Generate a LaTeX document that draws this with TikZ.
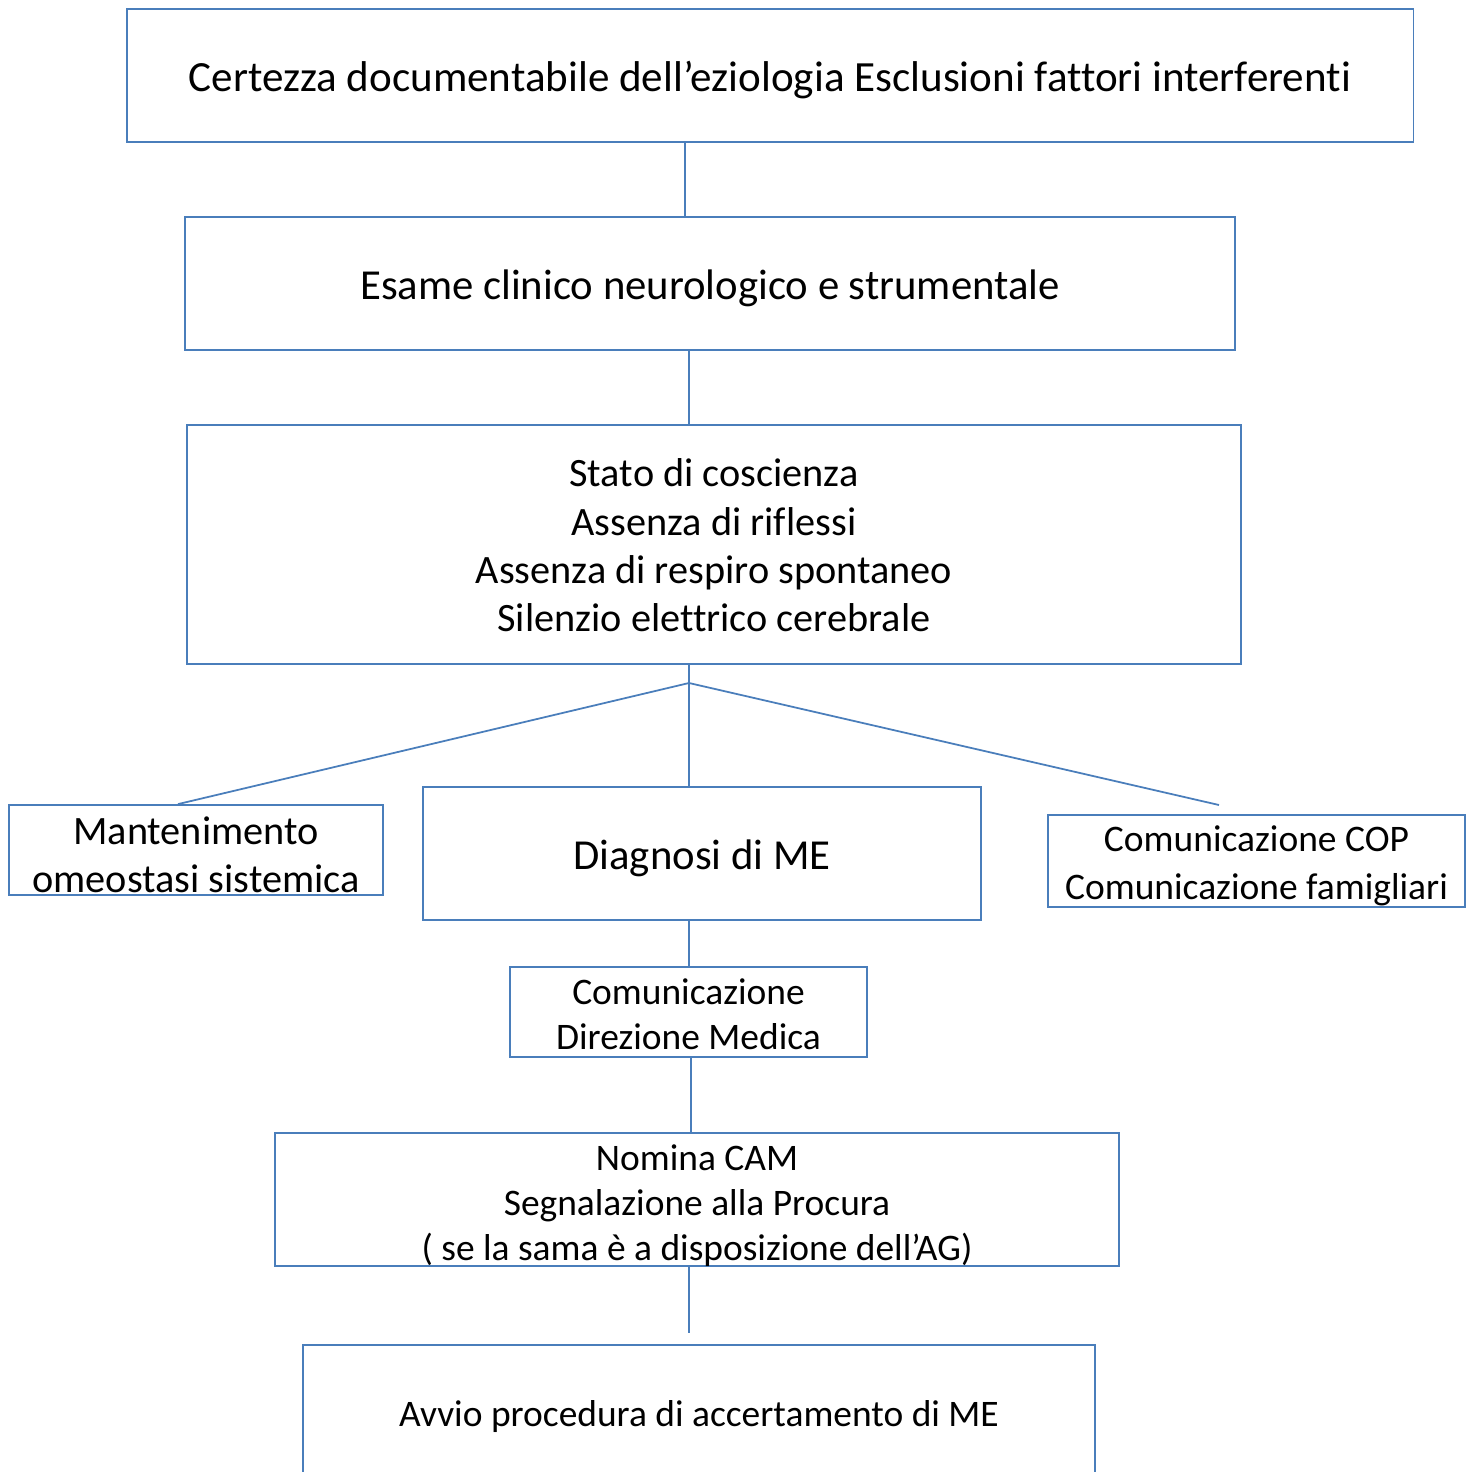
\documentclass[tikz,border=0pt]{standalone}
\usepackage{fontspec}
\setmainfont{Carlito}[Ligatures={NoCommon,NoContextual}]
\usetikzlibrary{positioning}

\definecolor{boxblue}{HTML}{4A7EBB}

\begin{document}
\begin{tikzpicture}[
    x=0.01cm, y=-0.01cm,
    box/.style={draw=boxblue, line width=0.5pt, inner sep=0pt},
    txt/.style={align=center, inner sep=0pt, yshift=-0.05cm},
    huge/.style={font=\fontsize{12.25}{14.9}\selectfont},
    big/.style={font=\fontsize{12.15}{14.8}\selectfont},
    mid/.style={font=\fontsize{11.45}{13.75}\selectfont},
    wide/.style={font=\fontsize{10.66}{13.66}\selectfont},
    small/.style={font=\fontsize{10.65}{12.9}\selectfont},
    link/.style={draw=boxblue, line width=0.5pt}
]

    % === Page frame ===
    \useasboundingbox (0,0) rectangle (1472,1472);
    \clip (0,0) rectangle (1472,1472);

    % === Boxes ===
    \node[box, minimum width=12.86cm, minimum height=1.33cm,
        label={[txt, huge]center:Certezza documentabile dell’eziologia Esclusioni fattori interferenti}]
        (cert) at (770,75.5) {};
    \node[box, minimum width=10.50cm, minimum height=1.33cm,
        label={[txt, big]center:Esame clinico neurologico e strumentale}]
        (esame) at (710,283.5) {};
    \node[box, minimum width=10.54cm, minimum height=2.39cm,
        label={[txt, mid, yshift=0.04cm]center:{Stato di coscienza\\Assenza di riflessi\\Assenza di respiro spontaneo\\Silenzio elettrico cerebrale}}]
        (stato) at (714,544.5) {};

    \node[box, minimum width=3.74cm, minimum height=0.90cm,
        label={[txt, mid]center:{Mantenimento\\omeostasi sistemica}}]
        (mant) at (196,850) {};
    \node[box, minimum width=5.58cm, minimum height=1.33cm,
        label={[txt, big]center:Diagnosi di ME}]
        (diag) at (702,853.5) {};
    \node[box, minimum width=4.17cm, minimum height=0.92cm,
        label={[txt, wide]center:{Comunicazione COP\\Comunicazione famigliari}}]
        (cop) at (1256.5,861) {};

    \node[box, minimum width=3.57cm, minimum height=0.90cm,
        label={[txt, small, yshift=0.03cm]center:{Comunicazione\\Direzione Medica}}]
        (dir) at (688.5,1012) {};
    \node[box, minimum width=8.44cm, minimum height=1.33cm,
        label={[txt, small, yshift=-0.01cm]center:{Nomina CAM\\Segnalazione alla Procura\\( se la sama è a disposizione dell’AG)}}]
        (cam) at (697,1199.5) {};
    \node[box, minimum width=7.92cm, minimum height=1.36cm,
        label={[txt, small, yshift=0.02cm]center:Avvio procedura di accertamento di ME}]
        (avvio) at (699,1413) {};

    % === Helper coordinates ===
    \coordinate (axisA) at (685,0);
    \coordinate (axisB) at (689,0);
    \coordinate (axisC) at (691,0);
    \coordinate (leftFoot) at (178,0);
    \coordinate (split) at (689,683);
    \coordinate (copEnd) at (1219,805);
    \coordinate (avvioEnd) at (689,1333);

    % === Connectors ===
    \draw[link] (cert.south -| axisA) -- (esame.north -| axisA);
    \draw[link] (esame.south -| axisB) -- (stato.north -| axisB);
    \draw[link] (stato.south -| axisB) -- (diag.north -| axisB);
    \draw[link] (split) -- (mant.north -| leftFoot);
    \draw[link] (split) -- (copEnd);
    \draw[link] (diag.south -| axisB) -- (dir.north -| axisB);
    \draw[link] (dir.south -| axisC) -- (cam.north -| axisC);
    \draw[link] (cam.south -| axisB) -- (avvioEnd);

\end{tikzpicture}
\end{document}
